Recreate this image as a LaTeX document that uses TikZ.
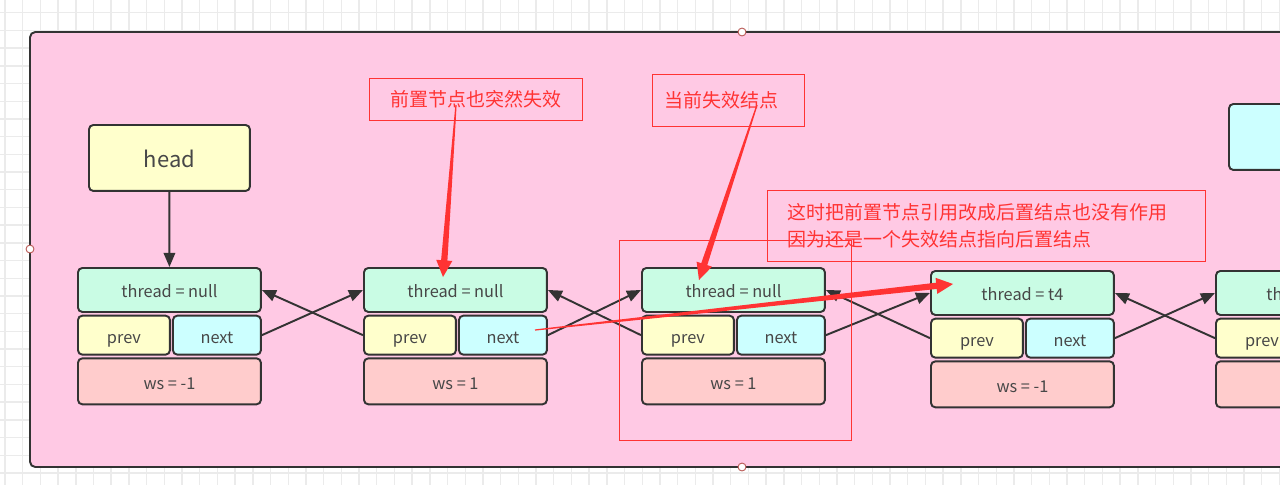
\documentclass[tikz,border=0pt]{standalone}
\usepackage{fontspec}
\setmainfont{Noto Sans CJK SC}
\usepackage{xcolor}
\usetikzlibrary{calc, positioning, arrows.meta}
\definecolor{gridGray}{HTML}{EBEBEB}
\definecolor{framePink}{HTML}{FFC9E4}
\definecolor{edgeGray}{HTML}{333333}
\definecolor{textGray}{HTML}{474747}
\definecolor{threadMint}{HTML}{C9FCE4}
\definecolor{prevYellow}{HTML}{FFFFCC}
\definecolor{nextCyan}{HTML}{CCFFFF}
\definecolor{wsRose}{HTML}{FFCCCC}
\definecolor{noteRed}{HTML}{FF3333}
\definecolor{handleRed}{HTML}{B85450}

\tikzset{
    cell/.style={rectangle, rounded corners=2.5pt, draw=edgeGray, line width=1.1pt,
                 text=textGray, font=\fontsize{9.3}{11}\selectfont, inner sep=0pt,
                 text height=9.6pt, text depth=0.6pt},
    threadcell/.style={cell, fill=threadMint, minimum width=3.66cm, minimum height=0.88cm},
    prevcell/.style={cell, fill=prevYellow, minimum width=1.84cm, minimum height=0.78cm},
    nextcell/.style={cell, fill=nextCyan, minimum width=1.76cm, minimum height=0.78cm},
    wscell/.style={cell, fill=wsRose, minimum width=3.66cm, minimum height=0.92cm},
    topbox/.style={cell, minimum width=3.22cm, minimum height=1.32cm,
                   font=\fontsize{12.5}{14}\selectfont, text height=12pt, text depth=1pt},
    link/.style={draw=edgeGray, line width=1.1pt, -{Triangle[length=8pt,width=6.5pt]}},
    note/.style={rectangle, draw=noteRed, line width=0.6pt, text=noteRed, inner sep=0pt,
                 font=\fontsize{10.8}{15.3}\selectfont},
    handle/.style={circle, draw=handleRed, fill=white, line width=0.5pt,
                   minimum size=4.5pt, inner sep=0pt}
}

% one queue node: name, x, y, thread text, ws text
\newcommand{\listnode}[5]{%
    \node[threadcell, anchor=north west] (#1-t) at (#2,#3) {#4};
    \node[prevcell, below=1pt of #1-t.south west, anchor=north west] (#1-p) {prev};
    \node[nextcell, below=1pt of #1-t.south east, anchor=north east] (#1-n) {next};
    \node[wscell, below=1pt of #1-p.south west, anchor=north west] (#1-w) {#5};
}

% red hand-drawn pointer, thin at the start
\newcommand{\taperarrow}[2]{%
    \coordinate (tipbase) at ($(#2)!9.5pt!(#1)$);
    \fill[noteRed] ($(#1)!0.35pt!90:(#2)$) -- ($(tipbase)!1.8pt!90:(#2)$)
        -- ($(tipbase)!4.6pt!90:(#2)$) -- (#2) -- ($(tipbase)!4.6pt!-90:(#2)$)
        -- ($(tipbase)!1.8pt!-90:(#2)$) -- ($(#1)!0.35pt!-90:(#2)$) -- cycle;
}

\begin{document}
\begin{tikzpicture}[x=0.02cm, y=-0.02cm]
    \useasboundingbox (0,0) rectangle (1280,485);
    \clip (0,0) rectangle (1280,485);
    \fill[white] (0,0) rectangle (1280,485);

    % grid paper
    \foreach \gx in {5,22.7,...,1280} \draw[gridGray, line width=0.8pt] (\gx,0) -- (\gx,485);
    \foreach \gy in {12.7,30.4,...,485} \draw[gridGray, line width=0.8pt] (0,\gy) -- (1280,\gy);

    % container
    \draw[draw=edgeGray, fill=framePink, line width=1.1pt, rounded corners=3pt]
        (30,32) rectangle (1454,467);
    \node[handle] (hTop) at (742,32) {};
    \node[handle] (hLeft) at (30,249) {};
    \node[handle] (hBottom) at (742,467) {};

    % head and tail
    \node[topbox, fill=prevYellow, anchor=north west] (head) at (88,124) {head};
    \node[topbox, fill=nextCyan, anchor=north west] (tail) at (1228,103) {};

    % queue
    \listnode{n1}{77}{267}{thread = null}{ws = -1}
    \listnode{n2}{363}{267}{thread = null}{ws = 1}
    \listnode{n3}{641}{267}{thread = null}{ws = 1}
    \listnode{n4}{930}{270}{thread = t4}{ws = -1}
    \listnode{n5}{1215}{270}{thread = t5}{}

    \draw[link] (head) -- (n1-t);
    \foreach \a/\b in {n1/n2, n2/n3, n3/n4, n4/n5} {
        \draw[link] (\a-n.east) -- (\b-t.west);
        \draw[link] (\b-p.west) -- (\a-t.east);
    }

    % notes
    \node[note, minimum width=4.26cm, minimum height=0.84cm] (noteA) at (476,99.5)
        {前置节点也突然失效};
    \node[note, minimum width=3.04cm, minimum height=1.04cm, inner xsep=0.24cm,
          text width=2.56cm, align=left] (noteB) at (728.5,100.5) {当前失效结点};
    \node[note, minimum width=8.76cm, minimum height=1.42cm, inner xsep=0.4cm,
          text width=7.96cm, align=left] (noteC) at (986.5,226)
        {这时把前置节点引用改成后置结点也没有作用\\因为还是一个失效结点指向后置结点};
    \node[draw=noteRed, line width=0.5pt, minimum width=4.64cm, minimum height=4cm,
          anchor=north west, inner sep=0pt] (focus) at (619,240) {};

    \coordinate (srcA) at (456,105);
    \coordinate (dstA) at (443,277);
    \coordinate (srcB) at (757,105);
    \coordinate (dstB) at (699,280);
    \coordinate (srcC) at (535,330);
    \coordinate (dstC) at (953,284);
    \taperarrow{srcA}{dstA}
    \taperarrow{srcB}{dstB}
    \taperarrow{srcC}{dstC}
\end{tikzpicture}
\end{document}
